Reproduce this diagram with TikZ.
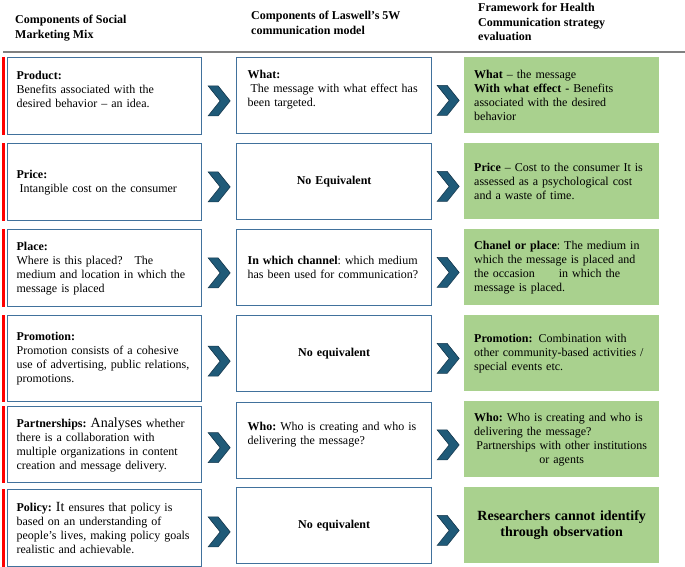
\documentclass[tikz,border=0pt]{standalone}
\usepackage{fontspec}
\setmainfont{Liberation Serif}
\usetikzlibrary{
  positioning,
  calc
}
\definecolor{edge}{HTML}{41719C}
\definecolor{eval}{HTML}{A9D18E}
\definecolor{chevfill}{HTML}{1F5A78}
\definecolor{chevline}{HTML}{16384E}
\definecolor{mixbar}{HTML}{FF0000}
\frenchspacing

\begin{document}
\begin{tikzpicture}[
  x=1pt, y=-1pt,
  every node/.style={font=\fontsize{12}{14}\selectfont},
  mixbox/.style={draw=edge, line width=1.3pt, fill=white, anchor=north west,
                 minimum width=194pt, minimum height=77pt, text width=176pt,
                 inner xsep=9pt, align=left},
  swbox/.style={mixbox, minimum width=195pt, minimum height=76pt,
                text width=173pt, inner xsep=11pt},
  evalbox/.style={fill=eval, anchor=north west, minimum width=195pt,
                  minimum height=76pt, text width=175pt, inner xsep=10pt, align=left},
  head/.style={anchor=north west, inner sep=0pt, align=left,
               font=\fontsize{12}{14.5}\selectfont\bfseries},
  bar/.style={mixbar, line width=3pt},
  chev/.pic={\draw[fill=chevfill, draw=chevline, line width=0.6pt]
    (-11,-15) -- (-1,-15) -- (11,0) -- (-1,15) -- (-11,15) -- (1,0) -- cycle;}
]
  \useasboundingbox (0,0) rectangle (685,567);

  % column headings
  \node[head] (hmix) at (15,15) {Components of Social\\Marketing Mix};
  \node[head] (hsw) at (251,11) {Components of Laswell's 5W\\communication model};
  \node[head] (heval) at (478,3) {Framework for Health\\Communication strategy\\evaluation};
  \draw[gray, line width=1.5pt] (3,52) -- (685,52);

  % product
  \node[mixbox] (product) at (7,57) {
    \textbf{Product:}\\
    Benefits associated with the\\
    desired behavior – an idea.\par\mbox{}
  };
  \node[swbox] (what) at (236,57) {
    \textbf{What:}\\
    \hspace*{3pt}The message with what effect has\\
    been targeted.\par\mbox{}
  };
  \node[evalbox] (whatfx) at (464,57) {
    \textbf{What} – the message\\
    \textbf{With what effect -} Benefits\\
    associated with the desired\\
    behavior
  };

  % price
  \node[mixbox] (price) at (7,143) {
    \textbf{Price:}\\
    \hspace*{3pt}Intangible cost on the consumer
  };
  \node[swbox, align=center] (noprice) at (236,143) {\textbf{No Equivalent}};
  \node[evalbox] (cost) at (464,143) {
    \textbf{Price} – Cost to the consumer It is\\
    assessed as a psychological cost\\
    and a waste of time.
  };

  % place
  \node[mixbox] (place) at (7,229) {
    \textbf{Place:}\\
    Where is this placed?\hspace{1em}The\\
    medium and location in which the\\
    message is placed
  };
  \node[swbox] (channel) at (236,229) {
    \textbf{In which channel}: which medium\\
    has been used for communication?
  };
  \node[evalbox] (medium) at (464,229) {
    \textbf{Chanel or place}: The medium in\\
    which the message is placed and\\
    the occasion\hspace{2em}in which the\\
    message is placed.
  };

  % promotion
  \node[mixbox, minimum height=86pt] (promo) at (7,315) {
    \textbf{Promotion:}\\
    Promotion consists of a cohesive\\
    use of advertising, public relations,\\
    promotions.
  };
  \node[swbox, align=center] (nopromo) at (236,315) {\textbf{No equivalent}};
  \node[evalbox] (events) at (464,315) {
    \textbf{Promotion:}\hspace{0.5em}Combination with\\
    other community-based activities /\\
    special events etc.
  };

  % partnerships
  \node[mixbox, minimum height=76pt] (partner) at (7,406) {
    \textbf{Partnerships:} {\fontsize{14}{14}\selectfont Analyses} whether\\
    there is a collaboration with\\
    multiple organizations in content\\
    creation and message delivery.
  };
  \node[swbox] (who) at (236,402) {
    \textbf{Who:} Who is creating and who is\\
    delivering the message?\par\mbox{}
  };
  \node[evalbox] (whoeval) at (464,401) {
    \textbf{Who:} Who is creating and who is\\
    delivering the message?\par
    {\centering Partnerships with other institutions\\or agents\par}
  };

  % policy
  \node[mixbox] (policy) at (7,489) {
    \textbf{Policy:} {\fontsize{14}{14}\selectfont It} ensures that policy is\\
    based on an understanding of\\
    people's lives, making policy goals\\
    realistic and achievable.
  };
  \node[swbox, align=center] (nopolicy) at (236,487) {\textbf{No equivalent}};
  \node[evalbox, align=center, font=\fontsize{14}{15.5}\selectfont\bfseries]
    (noobs) at (464,487) {Researchers cannot identify\\through observation};

  % red markers on the marketing mix column
  \draw[bar] ($(product.north west)+(-4,0)$) -- ($(product.south west)+(-4,0)$);
  \draw[bar] ($(price.north west)+(-4,0)$) -- ($(price.south west)+(-4,0)$);
  \draw[bar] ($(place.north west)+(-4,0)$) -- ($(place.south west)+(-4,0)$);
  \draw[bar] ($(promo.north west)+(-4,0)$) -- ($(promo.south west)+(-4,0)$);
  \draw[bar] ($(partner.north west)+(-4,0)$) -- ($(partner.south west)+(-4,0)$);
  \draw[bar] ($(policy.north west)+(-4,0)$) -- ($(policy.south west)+(-4,0)$);

  % chevrons between the columns
  \pic at ($(product.east)!.5!(what.west)+(0,5)$) {chev};
  \pic at ($(what.east)!.5!(whatfx.west)+(0,5)$) {chev};
  \pic at ($(price.east)!.5!(noprice.west)+(0,5)$) {chev};
  \pic at ($(noprice.east)!.5!(cost.west)+(0,5)$) {chev};
  \pic at ($(place.east)!.5!(channel.west)+(0,5)$) {chev};
  \pic at ($(channel.east)!.5!(medium.west)+(0,5)$) {chev};
  \pic at ($(promo.east)!.5!(nopromo.west)+(0,5)$) {chev};
  \pic at ($(nopromo.east)!.5!(events.west)+(0,5)$) {chev};
  \pic at ($(partner.east)!.5!(who.west)+(0,5)$) {chev};
  \pic at ($(who.east)!.5!(whoeval.west)+(0,5)$) {chev};
  \pic at ($(policy.east)!.5!(nopolicy.west)+(0,5)$) {chev};
  \pic at ($(nopolicy.east)!.5!(noobs.west)+(0,5)$) {chev};
\end{tikzpicture}
\end{document}
